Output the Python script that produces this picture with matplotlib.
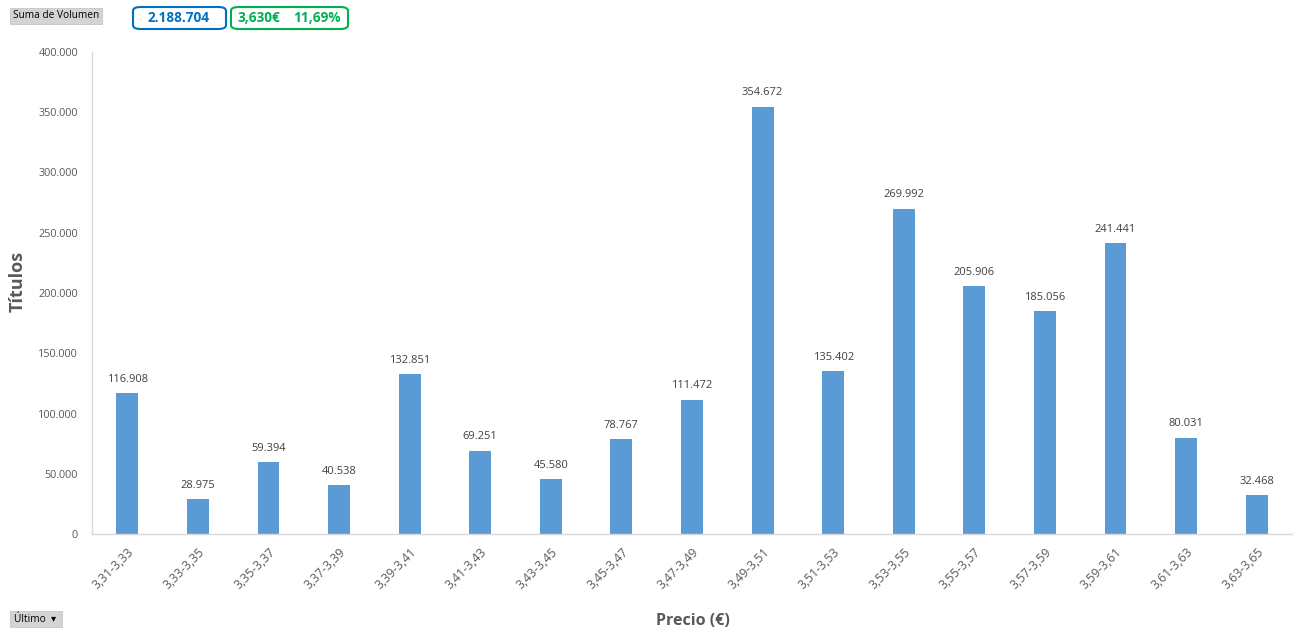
import matplotlib.pyplot as plt
from matplotlib.patches import FancyBboxPatch, Rectangle
from matplotlib.ticker import FuncFormatter

rangos = ["3,31-3,33", "3,33-3,35", "3,35-3,37", "3,37-3,39", "3,39-3,41",
          "3,41-3,43", "3,43-3,45", "3,45-3,47", "3,47-3,49", "3,49-3,51",
          "3,51-3,53", "3,53-3,55", "3,55-3,57", "3,57-3,59", "3,59-3,61",
          "3,61-3,63", "3,63-3,65"]
volumen = [116908, 28975, 59394, 40538, 132851, 69251, 45580, 78767, 111472,
           354672, 135402, 269992, 205906, 185056, 241441, 80031, 32468]
total_txt = "2.188.704"
precio_txt = "3,630€"
var_txt = "11,69%"

plt.rcParams['font.family'] = ['Open Sans', 'DejaVu Sans']
W, H = 1298, 635
fig = plt.figure(figsize=(W / 100, H / 100), dpi=100)
ax = fig.add_axes([92 / W, 1 - 534 / H, 1200 / W, 482 / H])

x = range(len(rangos))
bars = ax.bar(x, volumen, width=0.31, color="#5B9BD5")
for b, v in zip(bars, volumen):
    ax.annotate(f"{v:,}".replace(",", "."), (b.get_x() + b.get_width() / 2, v),
                xytext=(0, 6), textcoords="offset points", ha="center", va="bottom",
                fontsize=8, color="#404040")

ax.set_xlim(-0.5, len(rangos) - 0.5)
ax.set_ylim(0, 400000)
ax.set_yticks(range(0, 400001, 50000))
ax.yaxis.set_major_formatter(FuncFormatter(lambda v, p: f"{int(v):,}".replace(",", ".")))
ax.set_xticks(list(x))
ax.set_xticklabels(rangos, rotation=45, ha="right", rotation_mode="anchor")
ax.tick_params(axis="both", length=0, labelsize=7.8, labelcolor="#595959")
ax.tick_params(axis="x", labelsize=8.8, pad=8)
ax.tick_params(axis="y", pad=10)
for s in ["top", "right"]:
    ax.spines[s].set_visible(False)
for s in ["left", "bottom"]:
    ax.spines[s].set_color("#D9D9D9")
    ax.spines[s].set_linewidth(1)

fig.text(18 / W, 1 - 282 / H, "Títulos", rotation=90, ha="center", va="center",
         fontsize=13, fontweight="bold", color="#595959")
fig.text(693 / W, 1 - 621 / H, "Precio (€)", ha="center", va="center",
         fontsize=11.5, fontweight="bold", color="#595959")

# botones de tabla dinámica
fig.patches.append(Rectangle((10 / W, 1 - 24 / H), 92 / W, 16 / H, transform=fig.transFigure,
                             facecolor="#D4D4D4", edgecolor="#BFBFBF", lw=0.5))
fig.text(56 / W, 1 - 16 / H, "Suma de Volumen", ha="center", va="center", fontsize=7.3, color="#000000")
fig.patches.append(Rectangle((10 / W, 1 - 627 / H), 52 / W, 16 / H, transform=fig.transFigure,
                             facecolor="#D4D4D4", edgecolor="#BFBFBF", lw=0.5))
fig.text(14 / W, 1 - 619 / H, "Último  ▾", ha="left", va="center", fontsize=7.3, color="#000000")

# recuadros de resumen
fig.patches.append(FancyBboxPatch((133 / W, 1 - 29 / H), 93 / W, 22 / H, transform=fig.transFigure,
                                  boxstyle="round,pad=0,rounding_size=0.006", facecolor="white",
                                  edgecolor="#0070C0", lw=1.5))
fig.text(179 / W, 1 - 18 / H, total_txt, ha="center", va="center", fontsize=9.8,
         fontweight="bold", color="#0070C0")
fig.patches.append(FancyBboxPatch((231 / W, 1 - 29 / H), 117 / W, 22 / H, transform=fig.transFigure,
                                  boxstyle="round,pad=0,rounding_size=0.006", facecolor="white",
                                  edgecolor="#00B050", lw=1.5))
fig.text(237 / W, 1 - 18 / H, precio_txt, ha="left", va="center", fontsize=9.8,
         fontweight="bold", color="#00B050")
fig.text(341 / W, 1 - 18 / H, var_txt, ha="right", va="center", fontsize=9.8,
         fontweight="bold", color="#00B050")

fig.savefig("out.png", dpi=100)
